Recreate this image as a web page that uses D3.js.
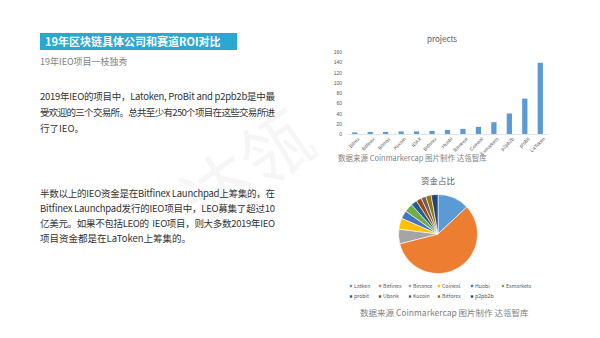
<!DOCTYPE html>
<html>
<head>
<meta charset="utf-8">
<script src="https://cdn.jsdelivr.net/npm/d3@7/dist/d3.min.js"></script>
<style>
  html, body { margin: 0; padding: 0; background: #fff; }
  svg { display: block; font-family: "Noto Sans CJK SC", "Noto Sans", sans-serif; }
</style>
</head>
<body>
<div id="chart"></div>
<script>
// bar chart data
let exchanges = ["Bitrex", "Bitfinex", "Bitmax", "Kucoin", "IDAX", "Bitforex", "Huobi", "Binance", "Coineal", "Exmarkets", "p2pb2b", "probit", "LaToken"]
let projects = [3, 4, 4, 5, 5, 6, 8, 10, 14, 23, 40, 69, 139]
let yTicks = [0, 20, 40, 60, 80, 100, 120, 140, 160]

// pie data
let funders = ["Latken", "Bitfinex", "Binance", "Coineal", "Huobi", "Exmarkets", "probit", "Ubank", "Kucoin", "Bitforex", "p2pb2b"]
let shares = [13, 58, 6, 4.5, 3.3, 3.5, 2.5, 2.2, 2, 2.2, 2.8]
let pieColors = ["#5b9bd5", "#ed7d31", "#a5a5a5", "#ffc000", "#4472c4", "#70ad47", "#255e91", "#9e480e", "#636363", "#997300", "#264478"]

// text
let title = "19年区块链具体公司和赛道ROI对比"
let subtitle = "19年IEO项目一枝独秀"
let para1 = ["2019年IEO的项目中，Latoken, ProBit and p2pb2b是中最", "受欢迎的三个交易所。总共至少有250个项目在这些交易所进", "行了IEO。"]
let para2 = ["半数以上的IEO资金是在Bitfinex Launchpad上筹集的，在", "Bitfinex Launchpad发行的IEO项目中，LEO募集了超过10", "亿美元。如果不包括LEO的  IEO项目，则大多数2019年IEO", "项目资金都是在LaToken上筹集的。"]
let source = "数据来源 Coinmarkercap  图片制作 达瓴智库"

let svg = d3.select("#chart").append("svg")
    .attr("width", 600)
    .attr("height", 338)

// watermark
svg.append("text")
    .attr("transform", "translate(262,190) rotate(-35)")
    .attr("text-anchor", "middle")
    .attr("font-size", 70)
    .attr("font-family", "Noto Sans CJK SC")
    .attr("fill", "#f6f6f6")
    .text("达瓴")

// left side
svg.append("rect")
    .attr("x", 40).attr("y", 33)
    .attr("width", 197).attr("height", 17)
    .attr("fill", "#2aa8d2")
svg.append("text")
    .attr("x", 45).attr("y", 45.5)
    .attr("font-size", 11).attr("font-weight", "bold")
    .attr("fill", "#fff")
    .text(title)
svg.append("text")
    .attr("x", 40).attr("y", 65)
    .attr("font-size", 9)
    .attr("fill", "#7f7f7f")
    .text(subtitle)

let writeLines = (lines, y0, step) => {
    lines.forEach((s, i) => {
        let t = svg.append("text")
            .attr("x", 40).attr("y", y0 + i * step)
            .attr("font-size", 9.5)
            .attr("fill", "#333")
            .attr("xml:space", "preserve")
            .text(s)
        if (i < lines.length - 1) t.attr("textLength", 235).attr("lengthAdjust", "spacing")
    })
}
writeLines(para1, 99.5, 16)
writeLines(para2, 196.5, 15)

// bar chart
let x = d3.scaleBand().domain(exchanges).range([347, 548]).paddingInner(0.66).paddingOuter(0.33)
let y = d3.scaleLinear().domain([0, 160]).range([134, 52])

svg.append("text")
    .attr("x", 442).attr("y", 42)
    .attr("text-anchor", "middle")
    .attr("font-size", 8)
    .attr("fill", "#595959")
    .text("projects")

let yAxis = svg.append("g")
    .attr("transform", "translate(345,0)")
    .call(d3.axisLeft(y).tickValues(yTicks).tickSize(0).tickPadding(3))
yAxis.select(".domain").remove()
yAxis.selectAll("text").attr("font-size", 5).attr("fill", "#595959")

svg.selectAll("rect.bar")
    .data(projects)
    .join("rect")
    .attr("class", "bar")
    .attr("x", (d, i) => x(exchanges[i]))
    .attr("y", d => y(d))
    .attr("width", x.bandwidth())
    .attr("height", d => y(0) - y(d))
    .attr("fill", "#5b9bd5")

let xAxis = svg.append("g")
    .attr("transform", `translate(0,${y(0)})`)
    .call(d3.axisBottom(x).tickSize(0).tickPadding(3))
xAxis.select(".domain").attr("stroke", "#d9d9d9").attr("stroke-width", 0.7)
xAxis.selectAll("text")
    .attr("font-size", 5)
    .attr("fill", "#595959")
    .attr("text-anchor", "end")
    .attr("dy", "0.3em")
    .attr("transform", "translate(2,2) rotate(-45)")

svg.append("text")
    .attr("x", 338).attr("y", 161)
    .attr("font-size", 7.5)
    .attr("fill", "#7f7f7f")
    .text(source)

// pie chart
svg.append("text")
    .attr("x", 438).attr("y", 184)
    .attr("text-anchor", "middle")
    .attr("font-size", 8.5)
    .attr("fill", "#595959")
    .text("资金占比")

let pie = d3.pie().sort(null)
let arc = d3.arc().innerRadius(0).outerRadius(39.5)
svg.append("g")
    .attr("transform", "translate(438,234)")
    .selectAll("path")
    .data(pie(shares))
    .join("path")
    .attr("d", arc)
    .attr("fill", (d, i) => pieColors[i])
    .attr("stroke", "#fff")
    .attr("stroke-width", 0.6)

let legendX = [351, 380, 410, 439, 472, 503]
let legend = svg.append("g")
funders.forEach((name, i) => {
    let col = i < 6 ? i : i - 6,
        row = i < 6 ? 0 : 1,
        lx = legendX[col],
        ly = 286 + row * 10.5
    legend.append("rect")
        .attr("x", lx - 1.2).attr("y", ly - 1.2)
        .attr("width", 2.4).attr("height", 2.4)
        .attr("fill", pieColors[i])
    legend.append("text")
        .attr("x", lx + 3).attr("y", ly + 1.8)
        .attr("font-size", 5.2)
        .attr("fill", "#595959")
        .text(name)
})

svg.append("text")
    .attr("x", 360).attr("y", 316)
    .attr("font-size", 8.5)
    .attr("fill", "#7f7f7f")
    .text(source)
</script>
</body>
</html>
